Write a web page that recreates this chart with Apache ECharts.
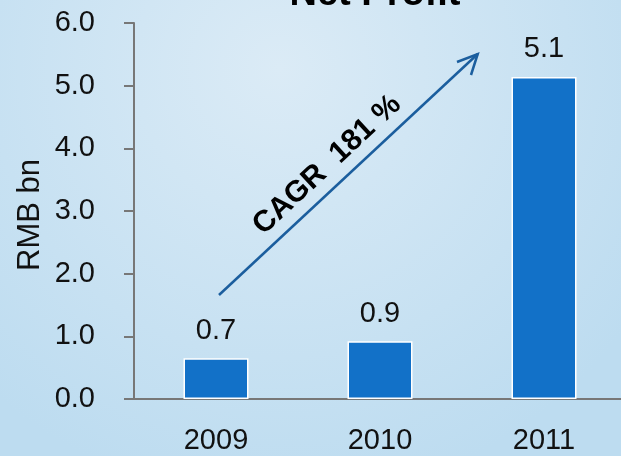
<!DOCTYPE html>
<html>
<head>
<meta charset="utf-8">
<script src="https://cdn.jsdelivr.net/npm/echarts@6/dist/echarts.min.js"></script>
<style>
html,body{margin:0;padding:0;}
#c{width:621px;height:456px;}
</style>
</head>
<body>
<div id="c"></div>
<script>
var categories = ['2009', '2010', '2011'];
var profit = [0.65, 0.92, 5.14];
var profitLabels = ['0.7', '0.9', '5.1'];
var yTicks = [0, 6, 1]; // min, max, interval
var titleText = 'Net Profit';
var axisTitle = 'RMB bn';
var cagrText = 'CAGR  181 %';

var FONT = 'Liberation Sans';
var chart = echarts.init(document.getElementById('c'));
var angle = 43 * Math.PI / 180;
var option = {
  backgroundColor: {
    type: 'radial', x: 0.45, y: 0.15, r: 0.95,
    colorStops: [
      {offset: 0, color: '#dbebf6'},
      {offset: 1, color: '#bddcf0'}
    ]
  },
  animation: false,
  grid: {left: 134, top: 23, width: 492, bottom: 57, containLabel: false, outerBoundsMode: 'none'},
  xAxis: {
    type: 'category',
    data: categories,
    axisLine: {lineStyle: {color: '#777', width: 2}},
    axisTick: {length: 10, lineStyle: {color: '#777', width: 2}},
    axisLabel: {color: '#111', fontFamily: FONT, fontSize: 29, margin: 27}
  },
  yAxis: {
    type: 'value',
    min: yTicks[0], max: yTicks[1], interval: yTicks[2],
    splitLine: {show: false},
    axisLine: {show: true, lineStyle: {color: '#777', width: 2}},
    axisTick: {show: true, length: 10, lineStyle: {color: '#777', width: 2}},
    axisLabel: {color: '#111', fontFamily: FONT, fontSize: 29, margin: 39,
      formatter: function (v) { return v.toFixed(1); }}
  },
  series: [{
    type: 'bar',
    data: profit,
    barWidth: 65,
    itemStyle: {color: '#1271c8', borderColor: '#ffffff', borderWidth: 1.5},
    label: {
      show: true, position: 'top', distance: 13,
      color: '#111', fontFamily: FONT, fontSize: 29,
      formatter: function (p) { return profitLabels[p.dataIndex]; }
    }
  }],
  graphic: [
    {type: 'text', x: 375, y: -5,
      style: {text: titleText, fontFamily: FONT, fontWeight: 'bold', fontSize: 38, fill: '#000', align: 'center', verticalAlign: 'middle'}},
    {type: 'text', x: 30, y: 215, rotation: Math.PI / 2,
      style: {text: axisTitle, fontFamily: FONT, fontSize: 31, fill: '#111', align: 'center', verticalAlign: 'middle'}},
    {type: 'line', shape: {x1: 219, y1: 295, x2: 477.7, y2: 54},
      style: {stroke: '#1b5e9e', lineWidth: 2.5}},
    {type: 'polyline', shape: {points: [[457, 62], [477.7, 54], [471, 75]]},
      style: {stroke: '#1b5e9e', lineWidth: 2.5, fill: null}},
    {type: 'text', x: 327, y: 165, rotation: angle,
      style: {text: cagrText, fontFamily: FONT, fontWeight: 'bold', fontSize: 30, fill: '#000', align: 'center', verticalAlign: 'middle'}}
  ]
};
chart.setOption(option);
</script>
</body>
</html>
